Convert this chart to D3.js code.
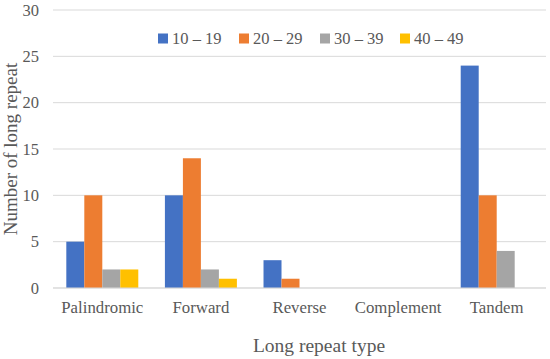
<!DOCTYPE html>
<html><head><meta charset="utf-8">
<script src="https://cdn.jsdelivr.net/npm/d3@7"></script>
<style>body{margin:0;background:#fff}svg{display:block}</style>
</head><body>
<script>
const categories = ["Palindromic","Forward","Reverse","Complement","Tandem"];
const seriesNames = ["10 – 19","20 – 29","30 – 39","40 – 49"];
const s10_19 = [5,10,3,0,24];
const s20_29 = [10,14,1,0,10];
const s30_39 = [2,2,0,0,4];
const s40_49 = [2,1,0,0,0];
const seriesValues = [s10_19,s20_29,s30_39,s40_49];
const colors = ["#4472C4","#ED7D31","#A5A5A5","#FFC000"];
const yTicks = [0,5,10,15,20,25,30];

const W=550,H=359;
const m={left:53,right:4,top:10,bottom:71};
const svg=d3.select("body").append("svg").attr("width",W).attr("height",H);
const font="Liberation Serif, Times New Roman, DejaVu Serif, serif";
const x=d3.scaleBand().domain(categories).range([m.left,W-m.right]).paddingInner(0.27).paddingOuter(0.135);
const x1=d3.scaleBand().domain(seriesNames).range([0,x.bandwidth()]);
const y=d3.scaleLinear().domain([0,30]).range([H-m.bottom,m.top]);

// grid
svg.append("g").selectAll("line").data(yTicks).join("line")
 .attr("x1",m.left).attr("x2",W-m.right).attr("y1",d=>y(d)).attr("y2",d=>y(d))
 .attr("stroke","#D9D9D9").attr("stroke-width",1);

// y axis labels
const ya=svg.append("g").attr("transform",`translate(${m.left},0)`)
 .call(d3.axisLeft(y).tickValues(yTicks).tickSize(0).tickPadding(14));
ya.select(".domain").remove();
ya.attr("font-family",null).attr("font-size",null);
ya.selectAll("text").style("font-family",font).style("font-size","16.5px").attr("fill","#595959");

// bars
const g=svg.append("g");
categories.forEach((c,i)=>{
  seriesValues.forEach((vals,j)=>{
    const v=vals[i];
    if(v>0){
      g.append("rect").attr("x",x(c)+x1(seriesNames[j])).attr("width",x1.bandwidth())
       .attr("y",y(v)).attr("height",y(0)-y(v)).attr("fill",colors[j]);
    }
  });
});

// baseline
svg.append("line").attr("x1",m.left).attr("x2",W-m.right).attr("y1",y(0)).attr("y2",y(0))
 .attr("stroke","#D9D9D9").attr("stroke-width",1);

// x axis labels
const xa=svg.append("g").attr("transform",`translate(0,${y(0)})`)
 .call(d3.axisBottom(x).tickSize(0).tickPadding(13));
xa.select(".domain").remove();
xa.attr("font-family",null).attr("font-size",null);
xa.selectAll("text").style("font-family",font).style("font-size","16.8px").attr("fill","#595959");

// axis titles
svg.append("text").attr("x",319).attr("y",351.5).attr("text-anchor","middle")
 .style("font-family",font).style("font-size","19.5px").attr("fill","#595959").text("Long repeat type");
svg.append("text").attr("transform",`translate(17,${(y(0)+y(30))/2}) rotate(-90)`).attr("text-anchor","middle")
 .style("font-family",font).style("font-size","19px").attr("fill","#595959").text("Number of long repeat");

// legend
const legX=[158,239,320,400];
seriesNames.forEach((n,j)=>{
  svg.append("rect").attr("x",legX[j]).attr("y",33.5).attr("width",10).attr("height",10).attr("fill",colors[j]);
  svg.append("text").attr("x",legX[j]+14).attr("y",44).style("font-family",font).style("font-size","16.5px")
   .attr("fill","#595959").text(n);
});
</script>
</body></html>
